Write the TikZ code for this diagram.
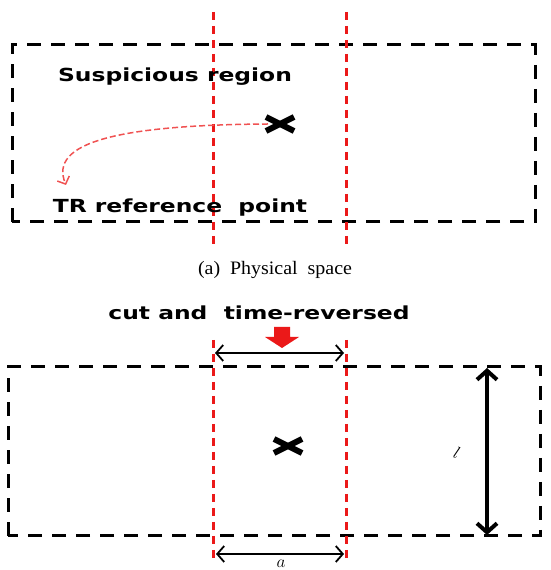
\documentclass[tikz,border=0pt]{standalone}
\usepackage{fontspec}
\setmainfont{Liberation Serif}
\newfontfamily\labelfont{DejaVu Sans}
\usetikzlibrary{arrows.meta, math, calc, positioning}
\definecolor{cutred}{RGB}{235,25,25}

\tikzset{
  region/.style={dash pattern=on 14pt off 10pt, line width=3pt},
  cutline/.style={color=cutred, dash pattern=on 8pt off 6pt, line width=3pt},
  boldlabel/.style={font=\labelfont\bfseries\fontsize{18}{21}\selectfont, xscale=1.3},
  widtharrow/.style={{Straight Barb[length=7pt,width=16pt]}-{Straight Barb[length=7pt,width=16pt]}, line width=1.8pt},
  heightarrow/.style={{Straight Barb[length=9pt,width=20pt]}-{Straight Barb[length=9pt,width=20pt]}, line width=4pt},
  source/.style={line width=6pt},
}

\begin{document}
\begin{tikzpicture}[x=1pt,y=1pt]
\tikzmath{
\cutL=213;
\cutR=346;
\sx=14;
\sy=7;
}
\useasboundingbox (0,0) rectangle (550,570);

% (a) physical space
\draw[region] (12,348) rectangle (535,525);
\draw[cutline] (\cutL,558) -- (\cutL,325);
\draw[cutline] (\cutR,558) -- (\cutR,325);
\node[boldlabel] (susp) at (175,493) {Suspicious region};
\node[boldlabel] (trref) at (180,362) {TR reference\ \ point};
\coordinate (srcA) at (280,446);
\draw[source] ($(srcA)+(-\sx,-\sy)$) -- ($(srcA)+(\sx,\sy)$);
\draw[source] ($(srcA)+(-\sx,\sy)$) -- ($(srcA)+(\sx,-\sy)$);
\coordinate (refpt) at (66,385);
\draw[color=cutred!75, dash pattern=on 6pt off 3pt, line width=1.5pt, -{Straight Barb[length=6pt,width=13pt]}]
  ($(srcA)+(-12,0)$) .. controls (120,445) and (48,428) .. (refpt);
\node[font=\fontsize{19}{22}\selectfont, xscale=1.05] (capA) at (275,300) {(a)\ \ Physical\ \ space};

% (b) cut and time-reversed
\node[boldlabel] (cuttxt) at (259,257) {cut and\ \ time-reversed};
\fill[cutred] (274,243) -- (290,243) -- (290,233) -- (299,233) -- (282,222) -- (265,233) -- (274,233) -- cycle;
\draw[region] (8,34) rectangle (540,203);
\draw[cutline] (\cutL,230) -- (\cutL,12);
\draw[cutline] (\cutR,230) -- (\cutR,12);
\coordinate (topL) at (\cutL+2,217);
\coordinate (topR) at (\cutR-2,217);
\draw[widtharrow] (topL) -- (topR);
\coordinate (botL) at (\cutL+3,16);
\coordinate (botR) at (\cutR-2,16);
\draw[widtharrow] (botL) -- (botR);
\node[anchor=south, inner sep=1pt, font=\fontsize{16}{18}\selectfont] (alabel) at (281,1) {$a$};
\coordinate (srcB) at (288,124);
\draw[source] ($(srcB)+(-\sx,-\sy)$) -- ($(srcB)+(\sx,\sy)$);
\draw[source] ($(srcB)+(-\sx,\sy)$) -- ($(srcB)+(\sx,-\sy)$);
\coordinate (hTop) at (487,202);
\coordinate (hBot) at (487,35);
\draw[heightarrow] (hTop) -- (hBot);
\node[rotate=-20, font=\fontsize{16}{18}\selectfont] (llabel) at (457,117) {$l$};
\end{tikzpicture}
\end{document}
